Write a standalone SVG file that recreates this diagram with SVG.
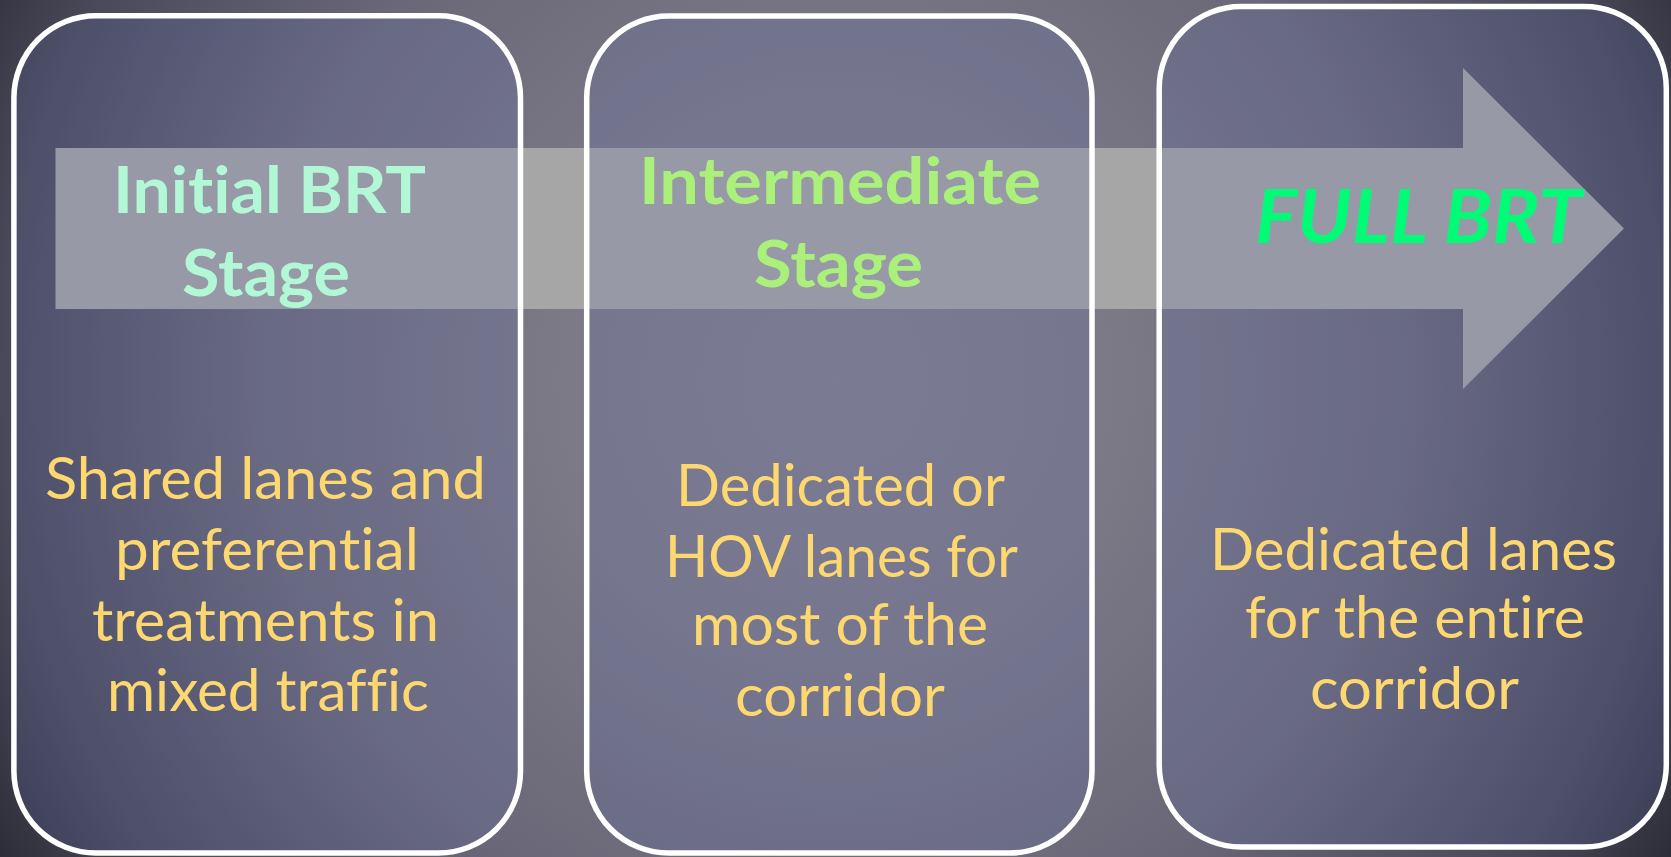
<svg xmlns="http://www.w3.org/2000/svg" width="1671" height="857" viewBox="0 0 1671 857">
  <defs>
    <radialGradient id="bg" gradientUnits="userSpaceOnUse" cx="835" cy="380" r="960">
      <stop offset="0" stop-color="#827f8d"/>
      <stop offset="0.3" stop-color="#7b7986"/>
      <stop offset="0.6" stop-color="#6a6878"/>
      <stop offset="0.87" stop-color="#484858"/>
      <stop offset="1" stop-color="#2e2e3a"/>
    </radialGradient>
    <style>
      text { font-variant-ligatures: none; font-feature-settings: "liga" 0; }
      .box { fill: rgb(99,108,175); fill-opacity: 0.22; stroke: #ffffff; stroke-width: 5.5; }
      .title { font-family: Lato, "Open Sans", sans-serif; font-weight: 700; font-size: 65px; text-anchor: middle; }
      .t1 { fill: #b2f7d6; }
      .t2 { fill: #aaf07a; }
      .full { font-family: Lato, "Open Sans", sans-serif; font-weight: 700; font-style: italic; font-size: 75px; fill: #00fc76; text-anchor: middle; }
      .body { font-family: Lato, "Open Sans", sans-serif; font-size: 59px; fill: #fdd870; text-anchor: middle; }
    </style>
  </defs>
  <rect x="0" y="0" width="1671" height="857" fill="url(#bg)"/>
  <g id="connectors">
    <path id="progress-arrow" d="M55.5,148 L1463,148 L1463,68 L1624,228.5 L1463,389 L1463,309 L55.5,309 Z" fill="#a6a6a6"/>
  </g>
  <g id="initial-stage">
    <rect class="box" x="13.9" y="15.8" width="506.6" height="837.2" rx="82" ry="82"/>
    <text class="title t1" x="269.5" y="213" textLength="313" lengthAdjust="spacingAndGlyphs">Initial BRT</text>
    <text class="title t1" x="266" y="296" textLength="168" lengthAdjust="spacingAndGlyphs">Stage</text>
    <text class="body" x="265.5" y="499" textLength="441" lengthAdjust="spacingAndGlyphs">Shared lanes and</text>
    <text class="body" x="267" y="570" textLength="304" lengthAdjust="spacingAndGlyphs">preferential</text>
    <text class="body" x="265.5" y="640.5" textLength="347" lengthAdjust="spacingAndGlyphs">treatments in</text>
    <text class="body" x="268" y="711" textLength="322" lengthAdjust="spacingAndGlyphs">mixed traffic</text>
  </g>
  <g id="intermediate-stage">
    <rect class="box" x="586.7" y="16" width="505.3" height="837" rx="82" ry="82"/>
    <text class="title t2" x="840" y="204" textLength="402" lengthAdjust="spacingAndGlyphs">Intermediate</text>
    <text class="title t2" x="838.5" y="287" textLength="169" lengthAdjust="spacingAndGlyphs">Stage</text>
    <text class="body" x="840.5" y="506" textLength="329" lengthAdjust="spacingAndGlyphs">Dedicated or</text>
    <text class="body" x="841.5" y="577" textLength="353" lengthAdjust="spacingAndGlyphs">HOV lanes for</text>
    <text class="body" x="840" y="645" textLength="296" lengthAdjust="spacingAndGlyphs">most of the</text>
    <text class="body" x="840" y="716" textLength="210" lengthAdjust="spacingAndGlyphs">corridor</text>
  </g>
  <g id="full-brt">
    <rect class="box" x="1159.2" y="6.5" width="507.1" height="840.5" rx="82" ry="82"/>
    <text class="full" x="1418.5" y="243" textLength="327" lengthAdjust="spacingAndGlyphs">FULL BRT</text>
    <text class="body" x="1413.5" y="570" textLength="407" lengthAdjust="spacingAndGlyphs">Dedicated lanes</text>
    <text class="body" x="1415" y="638" textLength="340" lengthAdjust="spacingAndGlyphs">for the entire</text>
    <text class="body" x="1414.5" y="709" textLength="209" lengthAdjust="spacingAndGlyphs">corridor</text>
  </g>
</svg>
